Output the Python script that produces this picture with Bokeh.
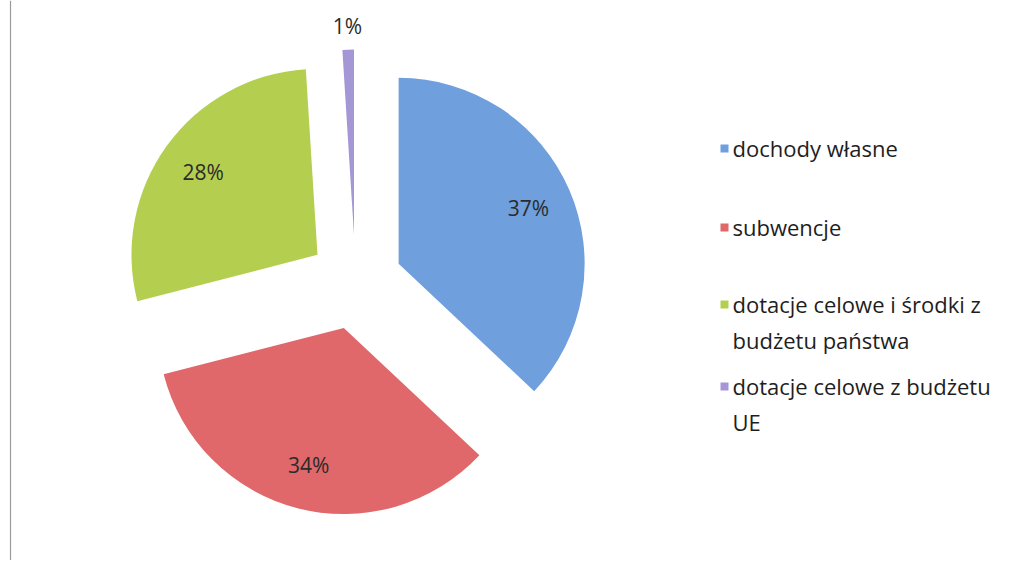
import math
from bokeh.plotting import figure
from bokeh.models import Range1d
from bokeh.core.properties import value
from bokeh.embed import file_html
from bokeh.resources import INLINE

categories = ["dochody własne", "subwencje", "dotacje celowe i środki z budżetu państwa", "dotacje celowe z budżetu UE"]
legend_lines = [["dochody własne"], ["subwencje"], ["dotacje celowe i środki z", "budżetu państwa"], ["dotacje celowe z budżetu", "UE"]]
shares = [37, 34, 28, 1]
colors = ["#6F9FDD", "#E0676A", "#B4CF4F", "#A597D6"]

W, H = 1001, 560
p = figure(width=W, height=H, output_backend="svg", toolbar_location=None,
           x_range=Range1d(0, W), y_range=Range1d(576 - H, 576),
           min_border=0)
p.axis.visible = False
p.grid.visible = False
p.outline_line_color = None
p.background_fill_color = "white"

# page border line at left (scan)
p.segment(x0=[10], y0=[0], x1=[10], y1=[576], line_color="#9a9a9a", line_width=1.2)

cx, cy = 355, 576 - 282
R = 186
explode = 47
total = sum(shares)
cum = 0
FONT = value("Open Sans")
for i, (s, c) in enumerate(zip(shares, colors)):
    t1 = cum / total * 360.0
    t2 = (cum + s) / total * 360.0
    cum += s
    mid = math.radians((t1 + t2) / 2)
    dx, dy = math.sin(mid), math.cos(mid)
    ax, ay = cx + explode * dx, cy + explode * dy
    p.wedge(x=[ax], y=[ay], radius=R, radius_units="data",
            start_angle=math.radians(90 - t2), end_angle=math.radians(90 - t1),
            fill_color=c, line_color=None)
    lr = R * 0.76 if s >= 5 else R + 24
    p.text(x=[ax + lr * dx], y=[ay + lr * dy], text=[f"{s}%"], text_font=FONT,
           text_font_size="21px", text_color="#2b2b2b", text_align="center",
           text_baseline="middle")

# legend
ly = [147, 226, 303, 385]
for i, (lines, c) in enumerate(zip(legend_lines, colors)):
    y0 = 576 - ly[i]
    p.rect(x=[724], y=[y0 - 1], width=8, height=8, fill_color=c, line_color=None)
    for j, ln in enumerate(lines):
        p.text(x=[732], y=[y0 - j * 36], text=[ln], text_font=FONT,
               text_font_size="22px", text_color="#1e1e1e", text_align="left",
               text_baseline="middle")

open("out.html", "w").write(file_html(p, INLINE))
